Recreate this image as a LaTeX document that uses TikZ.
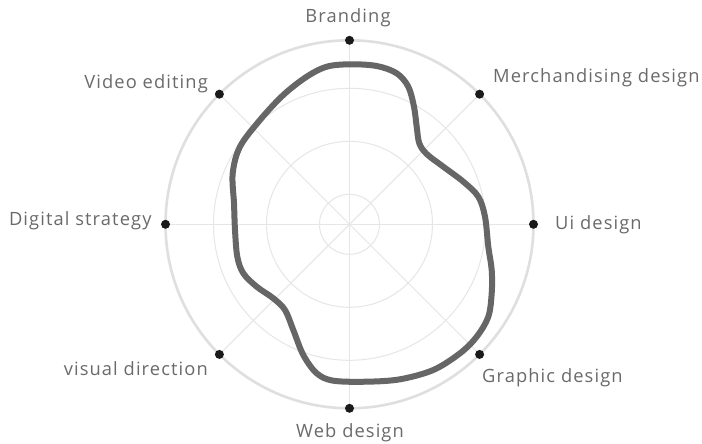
\documentclass[tikz,border=0pt]{standalone}
\usepackage{fontspec}
\setmainfont{Open Sans}[LetterSpace=6.0]
\definecolor{gridc}{HTML}{E6E6E6}
\definecolor{outerc}{HTML}{DFDFDF}
\definecolor{datac}{HTML}{666666}
\definecolor{dotc}{HTML}{1A1A1A}
\definecolor{textc}{HTML}{6A6A6A}
\tikzset{
  gridline/.style={draw=gridc, line width=1pt},
  outerline/.style={draw=outerc, line width=2.6pt},
  dataline/.style={draw=datac, line width=6pt},
  dotnode/.style={circle, fill=dotc, inner sep=0pt, minimum size=9pt},
  lbl/.style={text=textc, inner sep=0pt, font=\fontsize{18.3}{21}\selectfont},
}
\begin{document}
\begin{tikzpicture}[x=1pt,y=1pt]
\useasboundingbox (0,0) rectangle (702,444);
\fill[white] (0,0) rectangle (702,444);
\begin{scope}[shift={(349.5,219.7)}]
  \coordinate (c) at (0,0);
  \foreach \r in {30,83,136} \draw[gridline] (c) circle (\r);
  \draw[outerline] (c) circle (184);
  \coordinate (p1) at (90:184);
  \coordinate (p2) at (45:184);
  \coordinate (p3) at (0:184);
  \coordinate (p4) at (-45:184);
  \coordinate (p5) at (-90:184);
  \coordinate (p6) at (-135:184);
  \coordinate (p7) at (180:184);
  \coordinate (p8) at (135:184);
  \foreach \i in {1,...,8} \draw[gridline] (c) -- (p\i);
\end{scope}
\begin{scope}[cm={1,0,0,-1,(0,444)}]
  \draw[dataline] plot[smooth cycle, tension=0.55] coordinates {
    (350,64.3) (376.7,66) (396.7,73.3) (408.3,86.7) (414,106.7) (416.7,126.7)
    (419.3,143.3) (426.7,154) (443.3,166.7) (463.3,181.7) (478.3,196.7)
    (485,216.7) (488.3,246.7) (491.7,270) (491.7,293.3) (488.3,316.7)
    (476.7,336.7) (460,353.3) (433.3,370) (400,379.3) (366.7,381.7)
    (333.3,380.7) (316.7,373.3) (303.3,355) (293.3,330) (285,310)
    (273.3,298.3) (256.7,286.7) (243.3,273.3) (237.3,256.7) (235,230)
    (234,203.3) (232.7,173.3) (240,146.7) (260,120) (283.3,95)
    (306.7,76.7) (326.7,66.7)};
\end{scope}
\begin{scope}[shift={(349.5,219.7)}]
  \foreach \i in {1,...,8} \node[dotnode] (d\i) at (p\i) {};
\end{scope}
\node[lbl, anchor=base] (l1) at (348,421) {Branding};
\node[lbl, anchor=base west] (l2) at (493,361.3) {Merchandising design};
\node[lbl, anchor=base west] (l3) at (555,214) {Ui design};
\node[lbl, anchor=base west] (l4) at (482,61.3) {Graphic design};
\node[lbl, anchor=base] (l5) at (350,6.7) {Web design};
\node[lbl, anchor=base east] (l6) at (208,68) {visual direction};
\node[lbl, anchor=base east] (l7) at (151.7,218) {Digital strategy};
\node[lbl, anchor=base east] (l8) at (208,355.7) {Video editing};
\end{tikzpicture}
\end{document}
